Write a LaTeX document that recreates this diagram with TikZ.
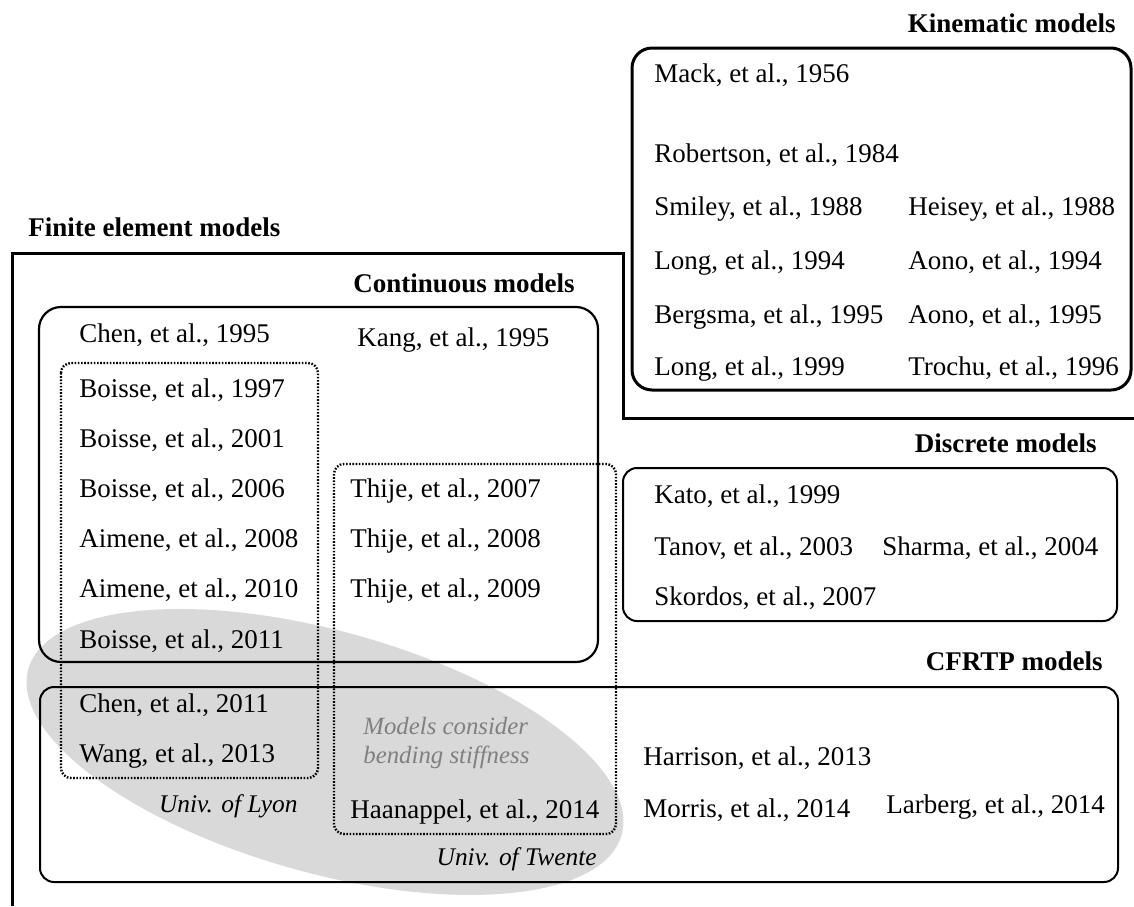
\documentclass[tikz,border=0pt]{standalone}
\usepackage{fontspec}
\setmainfont{Liberation Serif}
\begin{document}
\fontsize{13.5}{16}\selectfont
\begin{tikzpicture}[x=0.5pt, y=-0.5pt,
        ref/.style={anchor=base west, inner sep=0pt},
        title/.style={anchor=base east, inner sep=0pt, font=\bfseries},
        univ/.style={anchor=base east, inner sep=0pt, font=\fontsize{12.7}{15}\selectfont\itshape},
        note/.style={anchor=base west, inner sep=0pt, text=black!50, font=\fontsize{12.4}{15}\selectfont\itshape},
        group/.style={line width=1.5pt, rounded corners=10pt},
        family/.style={line width=1pt, rounded corners=7pt},
        school/.style={line width=1.2pt, dash pattern=on 0.8pt off 0.8pt, rounded corners=5pt},
        bubble/.style={fill=black!15}]
                \useasboundingbox (0,0) rectangle (1134,906);

                % Define corners
                \coordinate (K1) at (632,48);   \coordinate (K2) at (1131,390);
                \coordinate (C1) at (39,307);   \coordinate (C2) at (598,662);
                \coordinate (L1) at (61,363);   \coordinate (L2) at (318,778);
                \coordinate (T1) at (334,464);  \coordinate (T2) at (616,834);
                \coordinate (D1) at (623,468);  \coordinate (D2) at (1117,621);
                \coordinate (P1) at (40,687);   \coordinate (P2) at (1118,882);
                \coordinate (B) at (325,752);

                % Draw bending stiffness area
                \fill[bubble, rotate around={-15.6:(B)}] (B) ellipse [x radius=308, y radius=121];

                % Draw finite element frame
                \coordinate (F1) at (12,906);
                \coordinate (F2) at (12,253);
                \coordinate (F3) at (623,253);
                \coordinate (F4) at (623,418);
                \coordinate (F5) at (1134,418);
                \draw[line width=1.5pt] (F1) -- (F2) -- (F3) -- (F4) -- (F5);

                % Draw boxes
                \draw[group] (K1) rectangle (K2);
                \draw[family, line width=1.1pt, rounded corners=11pt] (C1) rectangle (C2);
                \draw[family] (D1) rectangle (D2);
                \draw[family] (P1) rectangle (P2);
                \draw[school] (L1) rectangle (L2);
                \draw[school] (T1) rectangle (T2);

                % Headings
                \node[title] (kin) at (1116,32) {Kinematic models};
                \node[title, anchor=base west] (fem) at (28,236) {Finite element models};
                \node[title] (cont) at (575,292) {Continuous models};
                \node[title] (disc) at (1097,452) {Discrete models};
                \node[title] (cfrtp) at (1103,670) {CFRTP models};

                % Kinematic models
                \node[ref] (mack) at (654,82) {Mack, et al., 1956};
                \node[ref] (robertson) at (654,162) {Robertson, et al., 1984};
                \node[ref] (smiley) at (654,215) {Smiley, et al., 1988};
                \node[ref] (heisey) at (908,215) {Heisey, et al., 1988};
                \node[ref] (long94) at (654,269) {Long, et al., 1994};
                \node[ref] (aono94) at (908,269) {Aono, et al., 1994};
                \node[ref] (bergsma) at (654,323) {Bergsma, et al., 1995};
                \node[ref] (aono95) at (908,323) {Aono, et al., 1995};
                \node[ref] (long99) at (654,375) {Long, et al., 1999};
                \node[ref] (trochu) at (908,375) {Trochu, et al., 1996};

                % Continuous models
                \node[ref] (chen95) at (79,342) {Chen, et al., 1995};
                \node[ref] (kang) at (357,346) {Kang, et al., 1995};
                \node[ref] (boisse97) at (79,397) {Boisse, et al., 1997};
                \node[ref] (boisse01) at (79,447) {Boisse, et al., 2001};
                \node[ref] (boisse06) at (79,497) {Boisse, et al., 2006};
                \node[ref] (aimene08) at (79,547) {Aimene, et al., 2008};
                \node[ref] (aimene10) at (79,597) {Aimene, et al., 2010};
                \node[ref] (boisse11) at (79,648) {Boisse, et al., 2011};
                \node[ref] (chen11) at (79,712) {Chen, et al., 2011};
                \node[ref] (wang) at (79,762) {Wang, et al., 2013};
                \node[ref] (thije07) at (350,497) {Thije, et al., 2007};
                \node[ref] (thije08) at (350,547) {Thije, et al., 2008};
                \node[ref] (thije09) at (350,597) {Thije, et al., 2009};
                \node[ref] (haanappel) at (350,818) {Haanappel, et al., 2014};
                \node[note] (bend1) at (363,734) {Models consider};
                \node[note] (bend2) at (363,763) {bending stiffness};
                \node[univ] (lyon) at (298,812) {Univ. of Lyon};
                \node[univ] (twente) at (597,865) {Univ. of Twente};

                % Discrete models
                \node[ref] (kato) at (654,503) {Kato, et al., 1999};
                \node[ref] (tanov) at (654,555) {Tanov, et al., 2003};
                \node[ref] (sharma) at (882,555) {Sharma, et al., 2004};
                \node[ref] (skordos) at (654,605) {Skordos, et al., 2007};

                % CFRTP models
                \node[ref] (harrison) at (643,765) {Harrison, et al., 2013};
                \node[ref] (morris) at (643,817) {Morris, et al., 2014};
                \node[ref] (larberg) at (886,813) {Larberg, et al., 2014};
\end{tikzpicture}
\end{document}
